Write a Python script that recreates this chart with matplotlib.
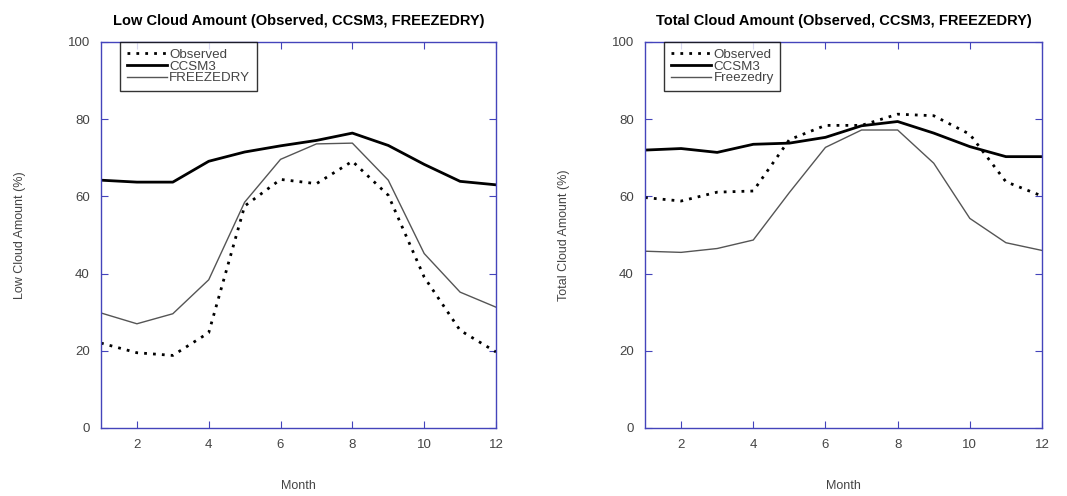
import numpy as np
import matplotlib.pyplot as plt

plt.rcParams['font.family'] = ['Liberation Sans', 'DejaVu Sans']

months = np.arange(1, 13)

low_obs = [22.0, 19.5, 18.8, 24.7, 57.5, 64.4, 63.3, 69.1, 60.3, 39.1, 25.3, 19.7]
low_ccsm3 = [64.2, 63.7, 63.7, 69.1, 71.5, 73.1, 74.5, 76.4, 73.2, 68.3, 63.9, 63.0]
low_fd = [29.8, 27.0, 29.6, 38.4, 58.5, 69.6, 73.6, 73.8, 64.2, 45.2, 35.2, 31.3]

tot_obs = [59.7, 58.8, 61.1, 61.4, 74.7, 78.4, 78.4, 81.3, 80.9, 76.1, 63.8, 60.1]
tot_ccsm3 = [72.0, 72.4, 71.4, 73.5, 73.8, 75.3, 78.3, 79.4, 76.4, 72.9, 70.3, 70.3]
tot_fd = [45.8, 45.5, 46.5, 48.7, 61.0, 72.7, 77.2, 77.2, 68.6, 54.3, 48.0, 46.0]

panels = [
    ("Low Cloud Amount (Observed, CCSM3, FREEZEDRY)", "Low Cloud Amount (%)",
     low_obs, low_ccsm3, low_fd, "FREEZEDRY"),
    ("Total Cloud Amount (Observed, CCSM3, FREEZEDRY)", "Total Cloud Amount (%)",
     tot_obs, tot_ccsm3, tot_fd, "Freezedry"),
]

fig = plt.figure(figsize=(10.67, 4.96), dpi=100)
axes_pos = [[101/1067, 1 - 428/496, 395/1067, 386/496],
            [645/1067, 1 - 428/496, 397/1067, 386/496]]
blue = '#4444bb'
gray = '#444444'

for pos, (title, ylab, obs, ccsm, fd, fdname) in zip(axes_pos, panels):
    ax = fig.add_axes(pos)
    ax.plot(months, obs, color='black', lw=2.0, ls=(0, (1, 2.2)), label='Observed')
    ax.plot(months, ccsm, color='black', lw=2.0, label='CCSM3')
    ax.plot(months, fd, color='#555555', lw=1.0, label=fdname)
    ax.set_xlim(1, 12)
    ax.set_ylim(0, 100)
    ax.set_xticks([2, 4, 6, 8, 10, 12])
    ax.set_yticks([0, 20, 40, 60, 80, 100])
    for s in ax.spines.values():
        s.set_color(blue)
        s.set_linewidth(1.0)
    ax.tick_params(direction='in', top=True, right=True, color=blue,
                   length=5, labelsize=9.5, labelcolor=gray, pad=8)
    ax.set_title(title, fontsize=10.5, fontweight='bold', pad=12)
    ax.set_xlabel('Month', fontsize=9, color=gray, labelpad=21)
    ax.set_ylabel(ylab, fontsize=9, color=gray, labelpad=30)
    leg = ax.legend(loc='upper left', bbox_to_anchor=(0.048, 1.0), fontsize=9.6,
                    frameon=True, fancybox=False, borderaxespad=0,
                    handlelength=3.0, handletextpad=0.2, labelspacing=-0.05,
                    borderpad=0.5)
    leg.get_frame().set_edgecolor('black')
    leg.get_frame().set_linewidth(1.0)
    for t in leg.get_texts():
        t.set_color(gray)

fig.savefig('out.png', dpi=100)
